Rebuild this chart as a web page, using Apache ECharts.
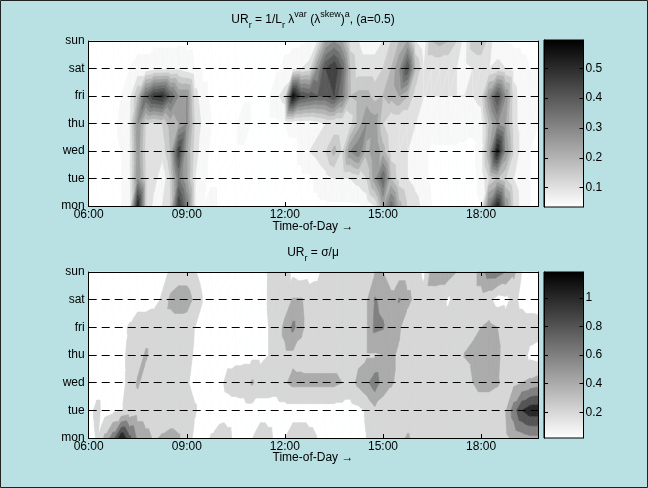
<!DOCTYPE html>
<html><head><meta charset="utf-8">
<script src="https://cdn.jsdelivr.net/npm/echarts@6/dist/echarts.min.js"></script>
<style>html,body{margin:0;padding:0;background:#b9e0e2;}#c{width:648px;height:488px;}</style>
</head><body><div id="c"></div><script>
// ---------- data ----------
const days = ['mon','tue','wed','thu','fri','sat','sun'];
const timeTicks = ['06:00','09:00','12:00','15:00','18:00'];
const slotsPerTick = 12; // 15-minute slots per 3 hours; slots from 06:00 to 19:45

// Top panel: UR = 1/L lambda^var (lambda^skew)^a
const topMon = [0.04,0.04,0.04,0.04,0.05,0.07,0.55,0.15, 0.08,0.10,0.15,0.50,0.35,0.10,0.05,0.07, 0.04,0.04,0.04,0.04,0.04,0.04,0.04,0.04, 0.04,0.04,0.04,0.04,0.04,0.04,0.04,0.04, 0.04,0.04,0.06,0.10,0.25,0.38,0.22,0.15, 0.12,0.08,0.05,0.04,0.04,0.04,0.04,0.04, 0.05,0.35,0.55,0.30,0.15,0.07,0.05,0.04];
const topTue = [0.04,0.04,0.04,0.04,0.05,0.08,0.30,0.15, 0.12,0.06,0.15,0.35,0.25,0.10,0.06,0.04, 0.04,0.04,0.04,0.04,0.04,0.04,0.04,0.04, 0.04,0.04,0.04,0.04,0.06,0.08,0.10,0.10, 0.10,0.12,0.15,0.28,0.40,0.20,0.12,0.10, 0.08,0.06,0.04,0.04,0.04,0.04,0.04,0.04, 0.06,0.15,0.20,0.15,0.10,0.06,0.05,0.04];
const topWed = [0.04,0.04,0.04,0.04,0.05,0.08,0.28,0.13, 0.13,0.12,0.20,0.48,0.25,0.12,0.07,0.04, 0.04,0.04,0.04,0.04,0.04,0.04,0.04,0.04, 0.04,0.04,0.06,0.10,0.12,0.15,0.22,0.14, 0.30,0.35,0.22,0.30,0.22,0.12,0.10,0.10, 0.08,0.06,0.04,0.04,0.04,0.04,0.04,0.04, 0.07,0.25,0.57,0.30,0.15,0.07,0.05,0.04];
const topThu = [0.04,0.04,0.04,0.04,0.06,0.09,0.30,0.15, 0.13,0.15,0.22,0.25,0.30,0.15,0.08,0.05, 0.04,0.04,0.04,0.08,0.04,0.04,0.04,0.04, 0.05,0.06,0.06,0.06,0.08,0.10,0.10,0.10, 0.12,0.22,0.30,0.28,0.15,0.10,0.10,0.10, 0.10,0.08,0.07,0.08,0.08,0.08,0.07,0.06, 0.07,0.20,0.30,0.25,0.12,0.07,0.06,0.05];
const topFri = [0.04,0.04,0.04,0.04,0.05,0.08,0.20,0.40, 0.50,0.52,0.40,0.30,0.30,0.12,0.06,0.04, 0.04,0.04,0.04,0.04,0.04,0.04,0.04,0.09, 0.12,0.595,0.45,0.42,0.40,0.40,0.45,0.35, 0.20,0.22,0.22,0.18,0.20,0.22,0.25,0.20, 0.12,0.10,0.10,0.10,0.10,0.10,0.10,0.10, 0.12,0.30,0.45,0.30,0.12,0.07,0.06,0.05];
const topSat = [0.04,0.04,0.04,0.04,0.04,0.05,0.06,0.06, 0.08,0.08,0.08,0.09,0.07,0.05,0.04,0.04, 0.04,0.04,0.04,0.04,0.04,0.04,0.04,0.04, 0.06,0.08,0.10,0.12,0.30,0.45,0.50,0.40, 0.20,0.12,0.12,0.12,0.15,0.20,0.30,0.45, 0.20,0.10,0.10,0.10,0.10,0.10,0.08,0.10, 0.10,0.10,0.12,0.10,0.08,0.06,0.05,0.05];
const topSun = [0.04,0.04,0.04,0.04,0.04,0.04,0.04,0.04, 0.04,0.04,0.04,0.04,0.04,0.04,0.04,0.04, 0.04,0.04,0.04,0.04,0.04,0.04,0.04,0.04, 0.04,0.04,0.04,0.05,0.10,0.25,0.30,0.25, 0.12,0.10,0.08,0.08,0.10,0.15,0.20,0.25, 0.10,0.06,0.20,0.22,0.20,0.15,0.07,0.18, 0.20,0.12,0.06,0.05,0.04,0.04,0.04,0.04];
const topLevels = [0.05,0.10,0.15,0.20,0.25,0.30,0.35,0.40,0.45,0.50,0.55];
const topScale = [0.035, 0.595];
const topBarTicks = [0.1,0.2,0.3,0.4,0.5];

// Bottom panel: UR = sigma/mu
const botMon = [0.10,0.22,0.45,0.72,1.18,0.85,0.55,0.45, 0.38,0.42,0.45,0.42,0.30,0.15,0.10,0.22, 0.30,0.25,0.15,0.15,0.20,0.30,0.25,0.15, 0.20,0.30,0.30,0.25,0.20,0.15,0.12,0.12, 0.12,0.15,0.20,0.25,0.30,0.30,0.35,0.42, 0.35,0.30,0.30,0.30,0.30,0.30,0.30,0.30, 0.30,0.30,0.30,0.35,0.45,0.50,0.55,0.55];
const botTue = [0.12,0.26,0.12,0.16,0.19,0.25,0.30,0.30, 0.30,0.30,0.30,0.30,0.28,0.22,0.12,0.10, 0.10,0.12,0.12,0.12,0.12,0.12,0.12,0.12, 0.12,0.12,0.12,0.12,0.12,0.12,0.12,0.12, 0.12,0.15,0.22,0.35,0.30,0.30,0.30,0.30, 0.30,0.30,0.30,0.30,0.30,0.30,0.30,0.30, 0.30,0.30,0.30,0.40,0.70,1.00,1.12,1.12];
const botWed = [0.10,0.10,0.10,0.10,0.15,0.25,0.43,0.30, 0.30,0.30,0.30,0.30,0.22,0.15,0.12,0.12, 0.15,0.25,0.28,0.30,0.43,0.30,0.30,0.28, 0.38,0.45,0.45,0.45,0.45,0.45,0.45,0.40, 0.32,0.45,0.55,0.72,0.50,0.42,0.35,0.30, 0.30,0.30,0.30,0.30,0.30,0.30,0.30,0.40, 0.45,0.45,0.42,0.35,0.35,0.40,0.45,0.50];
const botThu = [0.10,0.10,0.10,0.10,0.15,0.25,0.30,0.43, 0.30,0.30,0.30,0.30,0.25,0.18,0.12,0.12, 0.15,0.15,0.15,0.15,0.15,0.15,0.20,0.30, 0.35,0.35,0.32,0.30,0.30,0.30,0.30,0.30, 0.30,0.35,0.38,0.38,0.40,0.42,0.38,0.30, 0.30,0.30,0.30,0.30,0.30,0.30,0.41,0.45, 0.50,0.50,0.45,0.30,0.30,0.30,0.15,0.12];
const botFri = [0.10,0.10,0.10,0.10,0.15,0.22,0.30,0.30, 0.30,0.30,0.30,0.30,0.28,0.20,0.15,0.12, 0.12,0.12,0.12,0.12,0.12,0.12,0.20,0.30, 0.45,0.65,0.45,0.30,0.30,0.30,0.30,0.30, 0.30,0.30,0.38,0.65,0.62,0.45,0.42,0.30, 0.30,0.30,0.30,0.30,0.30,0.30,0.30,0.35, 0.40,0.45,0.40,0.30,0.30,0.30,0.30,0.28];
const botSat = [0.10,0.10,0.10,0.10,0.10,0.10,0.12,0.12, 0.15,0.22,0.45,0.50,0.50,0.35,0.20,0.10, 0.10,0.10,0.10,0.10,0.10,0.10,0.22,0.30, 0.30,0.42,0.42,0.30,0.30,0.30,0.30,0.30, 0.30,0.30,0.38,0.62,0.55,0.45,0.62,0.45, 0.35,0.30,0.30,0.28,0.17,0.30,0.30,0.30, 0.30,0.25,0.12,0.15,0.25,0.15,0.10,0.10];
const botSun = [0.10,0.10,0.10,0.10,0.10,0.10,0.10,0.10, 0.10,0.15,0.22,0.30,0.30,0.22,0.10,0.10, 0.10,0.10,0.10,0.10,0.10,0.10,0.22,0.30, 0.30,0.15,0.10,0.12,0.15,0.30,0.30,0.30, 0.30,0.30,0.35,0.40,0.40,0.30,0.30,0.30, 0.30,0.15,0.50,0.50,0.50,0.40,0.30,0.30, 0.50,0.70,0.70,0.60,0.45,0.20,0.10,0.10];
const botLevels = [0.2,0.4,0.6,0.8,1.0];
const botScale = [0.02, 1.18];
const botBarTicks = [0.2,0.4,0.6,0.8,1];

const topRows = [topMon,topTue,topWed,topThu,topFri,topSat,topSun];
const botRows = [botMon,botTue,botWed,botThu,botFri,botSat,botSun];

// ---------- drawing helpers ----------
const FONT = '"Liberation Sans", Arial, Helvetica, sans-serif';
function grayHex(f){ const g = Math.round(255*(1-Math.max(0,Math.min(1,f)))); const h=g.toString(16).padStart(2,'0'); return '#'+h+h+h; }
function clipHalf(poly, f){
  const res=[];
  for(let i=0;i<poly.length;i++){
    const a=poly[i], b=poly[(i+1)%poly.length];
    const fa=f(a), fb=f(b);
    if(fa>=0) res.push(a);
    if((fa>=0)!==(fb>=0)){
      const t=fa/(fa-fb);
      res.push([a[0]+t*(b[0]-a[0]), a[1]+t*(b[1]-a[1]), a[2]+t*(b[2]-a[2])]);
    }
  }
  return res;
}
function contourSeries(xi, yi, rows, levels, scale){
  const cells=[];
  for(let d=0; d<rows.length-1; d++) for(let k=0;k<rows[0].length-1;k++) cells.push([k,d]);
  const bounds=[-Infinity].concat(levels,[Infinity]);
  const colors=bounds.slice(0,-1).map((lo,i)=> i===0 ? grayHex(0) : grayHex((lo-scale[0])/(scale[1]-scale[0])));
  return {
    type:'custom', xAxisIndex:xi, yAxisIndex:yi, data:cells, silent:true, z:2,
    renderItem(params, api){
      const k=api.value(0), d=api.value(1);
      const P=(kk,dd)=>{const c=api.coord([kk,dd]); return [c[0],c[1],rows[dd][kk]];};
      const a=P(k,d), b=P(k+1,d), c=P(k+1,d+1), e=P(k,d+1);
      const children=[];
      for(const tri of [[a,b,c],[a,c,e]]){
        for(let i=0;i<bounds.length-1;i++){
          const lo=bounds[i], hi=bounds[i+1];
          let poly=clipHalf(tri, p=>p[2]-lo);
          if(poly.length<3) continue;
          poly=clipHalf(poly, p=>hi-p[2]);
          if(poly.length<3) continue;
          children.push({type:'polygon', shape:{points:poly.map(p=>[p[0],p[1]])},
            style:{fill:colors[i], stroke:colors[i], lineWidth:0.6}});
        }
      }
      return {type:'group', children};
    }
  };
}
function barSeries(xi, yi, scale){
  return {
    type:'custom', xAxisIndex:xi, yAxisIndex:yi, data:[[0]], silent:true, z:2,
    renderItem(params, api){
      const p0=api.coord([0, scale[0]]), p1=api.coord([1, scale[1]]);
      return {type:'rect', shape:{x:p0[0], y:p1[1], width:p1[0]-p0[0], height:p0[1]-p1[1]},
        style:{fill:new echarts.graphic.LinearGradient(0,0,0,1,[{offset:0,color:'#000'},{offset:1,color:'#fff'}]),
               stroke:'#000', lineWidth:1}};
    }
  };
}
const lineBlack={lineStyle:{color:'#000',width:1}};
function mainX(grid, pos){
  return {gridIndex:grid, type:'value', position:pos, min:0, max:topMon.length-1, interval:slotsPerTick, z:5,
    axisLine:{show:true,onZero:false,...lineBlack}, axisTick:{show:true,inside:true,length:4,lineStyle:{color:'#000'}},
    axisLabel:{show:pos==='bottom', color:'#000', fontSize:12, fontFamily:FONT, margin:3,
      formatter:v=> (v%slotsPerTick===0 ? timeTicks[v/slotsPerTick] : '')},
    splitLine:{show:false}};
}
function mainY(grid, pos){
  return {gridIndex:grid, type:'value', position:pos, min:0, max:days.length-1, interval:1, z:5,
    axisLine:{show:true,onZero:false,...lineBlack}, axisTick:{show:true,inside:true,length:4,lineStyle:{color:'#000'}},
    axisLabel:{show:pos==='left', color:'#000', fontSize:12, fontFamily:FONT, margin:4, formatter:v=>days[v]},
    splitLine:{show:pos==='left', lineStyle:{color:'#000', width:1, type:[8,5]}}};
}
function barX(grid){ return {gridIndex:grid, type:'value', min:0, max:1, show:false}; }
function barY(grid, pos, scale, ticks){
  return {gridIndex:grid, type:'value', position:pos, min:scale[0], max:scale[1], z:5,
    axisLine:{show:true,onZero:false,...lineBlack},
    axisTick:{show:true,inside:true,length:4,customValues:ticks,lineStyle:{color:'#000'}},
    axisLabel:{show:pos==='right', customValues:ticks, color:'#000', fontSize:12, fontFamily:FONT, margin:2,
      formatter:v=>String(Math.round(v*10)/10)},
    splitLine:{show:false}};
}
const rich={
  n:{fontSize:12, fontWeight:'normal', color:'#000', fontFamily:FONT, lineHeight:20},
  s:{fontSize:9, fontWeight:'normal', color:'#000', fontFamily:FONT, lineHeight:11, verticalAlign:'bottom'},
  p:{fontSize:9, fontWeight:'normal', color:'#000', fontFamily:FONT, lineHeight:11, verticalAlign:'top'}
};
const plainTitle={fontSize:12, fontWeight:'normal', color:'#000', fontFamily:FONT};
const option={
  animation:false,
  backgroundColor:'#b9e0e2',
  title:[
    {text:'{n|UR}{s|r}{n| = 1/L}{s|r}{n| λ}{p|var}{n| (λ}{p|skew}{n|)}{p|a}{n|, (a=0.5)}', left:313, top:10, textAlign:'center', padding:0, textStyle:{fontWeight:'normal', rich}},
    {text:'{n|UR}{s|r}{n| = σ/μ}', left:313, top:243, textAlign:'center', padding:0, textStyle:{fontWeight:'normal', rich}},
    {text:'Time-of-Day →', left:313, top:221, textAlign:'center', padding:0, textStyle:plainTitle},
    {text:'Time-of-Day →', left:313, top:452, textAlign:'center', padding:0, textStyle:plainTitle}
  ],
  grid:[
    {left:88.7, top:41, width:449.6, height:165},
    {left:88.7, top:272, width:449.6, height:166},
    {left:544, top:40, width:39.5, height:167},
    {left:544, top:272, width:39.5, height:166}
  ],
  xAxis:[mainX(0,'bottom'), mainX(0,'top'), mainX(1,'bottom'), mainX(1,'top'), barX(2), barX(3)],
  yAxis:[mainY(0,'left'), mainY(0,'right'), mainY(1,'left'), mainY(1,'right'),
         barY(2,'right',topScale,topBarTicks), barY(2,'left',topScale,topBarTicks),
         barY(3,'right',botScale,botBarTicks), barY(3,'left',botScale,botBarTicks)],
  series:[
    contourSeries(0, 0, topRows, topLevels, topScale),
    contourSeries(2, 2, botRows, botLevels, botScale),
    barSeries(4, 4, topScale),
    barSeries(5, 6, botScale)
  ],
  graphic:[{type:'rect', silent:true, z:100, shape:{x:0.5,y:0.5,width:647,height:487}, style:{fill:null, stroke:'#222', lineWidth:1}}]
};
const chart=echarts.init(document.getElementById('c'),null,{renderer:'canvas'});
chart.setOption(option);
</script></body></html>
